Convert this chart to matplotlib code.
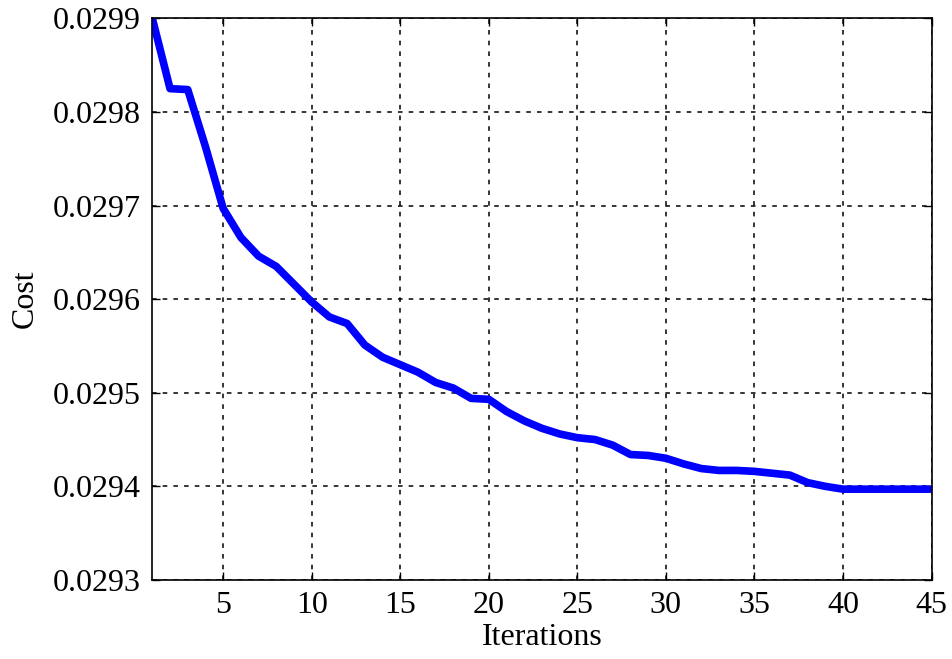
import matplotlib
matplotlib.use('Agg')
import matplotlib.pyplot as plt

iterations = list(range(1, 46))
cost = [0.029900, 0.029825, 0.029824, 0.029763, 0.029697,
        0.029666, 0.029646, 0.029635, 0.029616, 0.029597,
        0.029581, 0.029574, 0.029551, 0.029538, 0.029530,
        0.029522, 0.029511, 0.029505, 0.029494, 0.029493,
        0.029480, 0.029470, 0.029462, 0.029456, 0.029452,
        0.029450, 0.029444, 0.029434, 0.029433, 0.029430,
        0.029424, 0.029419, 0.029417, 0.029417, 0.029416,
        0.029414, 0.029412, 0.029404, 0.029400, 0.029397,
        0.029397, 0.029397, 0.029397, 0.029397, 0.029397]
xticks = [5, 10, 15, 20, 25, 30, 35, 40, 45]
yticks = [0.0293, 0.0294, 0.0295, 0.0296, 0.0297, 0.0298, 0.0299]

plt.rcParams['font.family'] = ['Liberation Serif', 'DejaVu Serif']

fig = plt.figure(figsize=(9.52, 6.59), dpi=100)
ax = fig.add_axes([0.16, 0.12, 0.8185, 0.852])

ax.plot(iterations, cost, color='#0000ff', linewidth=5.5, solid_joinstyle='round')

ax.set_xlim(1, 45)
ax.set_ylim(0.0293, 0.0299)
ax.set_xticks(xticks)
ax.set_yticks(yticks)
ax.set_yticklabels(['%.4f' % v for v in yticks])
ax.tick_params(direction='in', top=True, right=True, labelsize=23, length=6, width=1, pad=8)
ax.grid(True, color='black', linestyle=(0, (3, 4)), linewidth=1.1)
for s in ax.spines.values():
    s.set_linewidth(1.2)

ax.set_xlabel('Iterations', fontsize=23, labelpad=2)
ax.set_ylabel('Cost', fontsize=23, labelpad=10)

fig.savefig('out.png', dpi=100)
